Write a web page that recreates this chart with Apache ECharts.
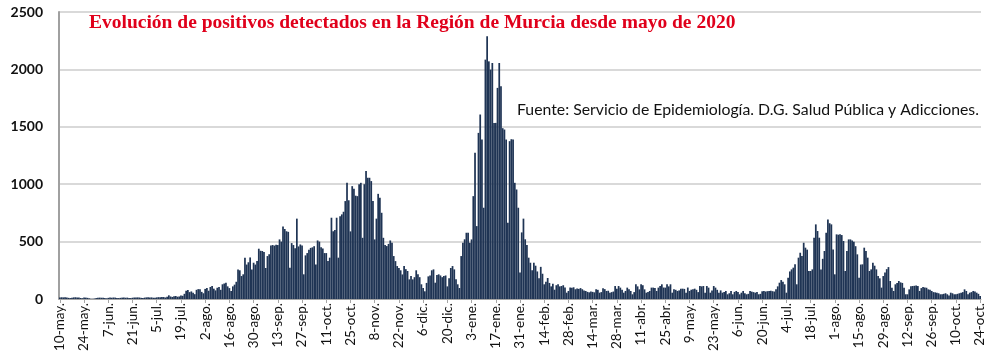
<!DOCTYPE html>
<html><head><meta charset="utf-8">
<script src="https://cdn.jsdelivr.net/npm/echarts@6/dist/echarts.min.js"></script>
<style>html,body{margin:0;padding:0;background:#fff}#c{width:1000px;height:358px}</style>
</head><body><div id="c"></div><script>
// Tick labels shown every 14 days (10-may-2020 .. 24-oct-2021)
var tickLabels = ['10-may.','24-may.','7-jun.','21-jun.','5-jul.','19-jul.','2-ago.','16-ago.','30-ago.','13-sep.','27-sep.','11-oct.','25-oct.','8-nov.','22-nov.','6-dic.','20-dic.','3-ene.','17-ene.','31-ene.','14-feb.','28-feb.','14-mar.','28-mar.','11-abr.','25-abr.','9-may.','23-may.','6-jun.','20-jun.','4-jul.','18-jul.','1-ago.','15-ago.','29-ago.','12-sep.','26-sep.','10-oct.','24-oct.'];

// Daily positives (each row = 14 days)
var mayToAug2020 = [
 12,15,14,16,13,10,8, 11,14,15,13,12,9,7,
 14,12,10,6,3,2,4, 8,10,12,11,10,8,6,
 10,12,11,13,12,9,8, 10,12,13,11,12,9,8,
 11,13,12,14,13,10,9, 12,14,15,13,14,11,10,
 14,16,15,18,17,13,20, 32,22,18,24,26,20,22,
 30,28,45,72,78,60,66, 55,42,80,86,84,62,50,
 88,95,72,105,113,90,75, 98,105,80,128,135,142,110,
 95,70,110,125,150,258,250, 200,215,360,300,320,362,258,
 316,300,330,438,420,418,410, 270,374,390,467,470,465,472
];
var sepToJan2021 = [
 470,519,500,632,610,590,585, 272,487,470,443,700,458,475,
 465,215,380,400,430,445,450, 460,300,510,500,450,440,400,
 400,330,360,708,590,600,708, 360,720,737,760,853,1012,860,
 589,983,960,900,896,1000,1012, 533,1000,1114,1056,1056,1027,853,
 519,700,916,882,751,533,470, 461,480,510,490,374,330,287,
 270,250,214,287,260,244,171, 200,171,190,250,215,190,128,
 96,67,140,197,205,250,258, 142,210,215,205,190,200,205,
 110,180,270,287,258,171,128, 96,374,490,520,577,577,490,
 519,896,1273,635,1447,1607,1389, 795,2085,2288,2070,1998,2056,1534
];
var janToJun2021 = [
 1534,1839,2056,1853,1488,1476,1389, 664,1375,1392,1389,1012,954,795,
 230,580,700,520,470,360,316, 250,316,290,240,180,280,220,
 128,150,183,140,110,133,81, 120,128,110,113,120,100,55,
 70,100,98,102,85,92,88, 95,85,75,70,62,58,65,
 62,58,84,80,55,60,93, 86,70,72,55,60,65,113,
 90,113,99,80,55,70,99, 84,70,41,60,128,110,84,
 128,120,84,55,60,70,99, 99,95,70,99,113,128,100,
 99,128,110,128,55,84,80, 70,75,90,90,88,55,100,
 70,81,85,90,80,60,113, 110,113,55,113,99,55,75,
 113,99,80,55,75,55,60, 70,41,50,70,41,62,70
];
var junToOct2021 = [
 60,41,55,70,50,41,45, 70,64,60,55,62,41,45,
 67,70,65,68,70,72,68, 65,84,110,142,165,150,128,
 55,186,240,258,273,302,128, 360,403,374,490,447,430,244,
 244,258,534,650,592,534,258, 350,418,577,693,660,650,432,
 215,563,560,563,557,505,244, 418,519,519,510,499,460,389,
 186,300,302,447,418,360,244, 258,316,290,258,200,180,99,
 200,230,260,278,157,99,70, 128,140,157,145,140,99,41,
 41,84,110,113,115,118,113, 70,95,104,100,98,84,80,
 70,60,58,55,50,41,41, 45,50,41,30,55,50,41,
 41,45,50,55,60,84,70, 41,55,60,70,65,55,45,
 26
];
var values = mayToAug2020.concat(sepToJan2021, janToJun2021, junToOct2021);

// one category per day
var categories = [];
var d0 = new Date(Date.UTC(2020, 4, 10));
for (var i = 0; i < values.length; i++) {
  var d = new Date(d0.getTime() + i * 86400000);
  categories.push(d.toISOString().slice(0, 10));
}

var chart = echarts.init(document.getElementById('c'), null, {renderer: 'canvas'});
chart.setOption({
  animation: false,
  backgroundColor: '#ffffff',
  title: [{
    text: 'Evolución de positivos detectados en la Región de Murcia desde mayo de 2020',
    left: 84, top: 8,
    textStyle: {fontFamily: 'Liberation Serif', fontWeight: 'bold', fontSize: 19.5, color: '#e0001b'}
  }, {
    text: 'Fuente: Servicio de Epidemiología. D.G. Salud Pública y Adicciones.',
    left: 512, top: 97,
    textStyle: {fontFamily: 'Lato', fontWeight: 'normal', fontSize: 15.8, color: '#111'}
  }],
  grid: {left: 59, right: 19, top: 12, bottom: 59, containLabel: false},
  xAxis: {
    type: 'category',
    data: categories,
    boundaryGap: true,
    axisLine: {show: true, lineStyle: {color: '#a6a6a6', width: 1}},
    axisTick: {show: true, interval: 13, alignWithLabel: true, length: 4, lineStyle: {color: '#a6a6a6'}},
    axisLabel: {
      interval: 13, rotate: 90, margin: 4,
      fontFamily: 'Lato', fontSize: 13.5, color: '#111',
      formatter: function (v, idx) { return tickLabels[Math.round(idx / 14)]; }
    },
    splitLine: {show: false}
  },
  yAxis: {
    type: 'value', min: 0, max: 2500, interval: 500,
    axisLine: {show: true, lineStyle: {color: '#a0a0a0', width: 2}},
    axisTick: {show: false},
    axisLabel: {margin: 16, fontFamily: 'Lato', fontWeight: 'bold', fontSize: 14, color: '#111',
      formatter: function (v) { return String(v); }},
    splitLine: {show: true, lineStyle: {color: '#d9d9d9', width: 2}}
  },
  series: [{
    type: 'bar',
    data: values,
    barCategoryGap: '0%',
    itemStyle: {color: '#1f3454'}
  }]
});
</script></body></html>
